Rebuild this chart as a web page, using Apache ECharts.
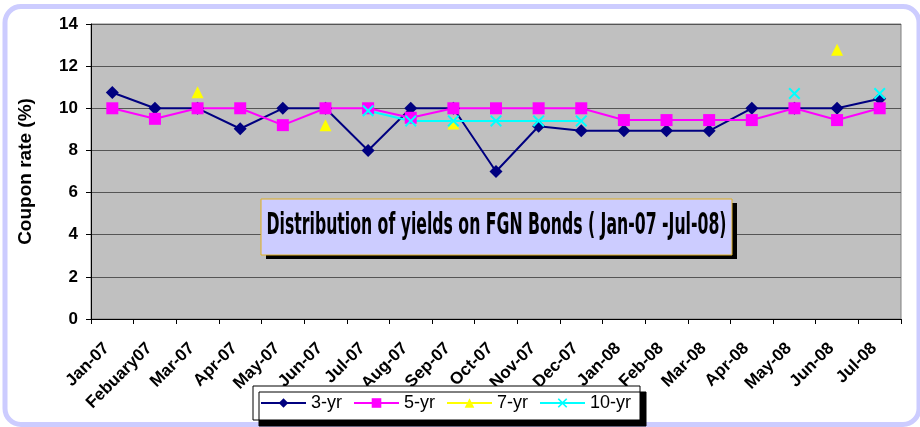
<!DOCTYPE html>
<html>
<head>
<meta charset="utf-8">
<script src="https://cdn.jsdelivr.net/npm/echarts@6.0.0/dist/echarts.min.js"></script>
<style>
html,body{margin:0;padding:0;background:#fff;}
#chart{width:920px;height:427px;}
</style>
</head>
<body>
<div id="chart"></div>
<script>
var categories = ['Jan-07','Febuary07','Mar-07','Apr-07','May-07','Jun-07','Jul-07','Aug-07','Sep-07','Oct-07','Nov-07','Dec-07','Jan-08','Feb-08','Mar-08','Apr-08','May-08','Jun-08','Jul-08'];
var yr3  = [10.75, 10, 10, 9.03, 10, 10, 8, 10, 10, 7, 9.15, 8.93, 8.93, 8.93, 8.93, 10, 10, 10, 10.45];
var yr5  = [10, 9.5, 10, 10, 9.2, 10, 10, 9.55, 10, 10, 10, 10, 9.44, 9.44, 9.44, 9.44, 10, 9.44, 10];
var yr7  = [null, null, 10.76, null, null, 9.2, null, null, 9.28, null, null, null, null, null, null, null, null, 12.78, null];
var yr10 = [null, null, null, null, null, null, 9.88, 9.4, 9.4, 9.4, 9.4, 9.4, null, null, null, null, 10.7, null, 10.7];
var seriesNames = ['3-yr','5-yr','7-yr','10-yr'];
var yTicks = {min: 0, max: 14, interval: 2};
var titleText = 'Distribution of yields on FGN Bonds ( Jan-07 -Jul-08)';

var xPath = 'path://M0,1.2 L1.2,0 L5,3.8 L8.8,0 L10,1.2 L6.2,5 L10,8.8 L8.8,10 L5,6.2 L1.2,10 L0,8.8 L3.8,5 Z';

var titleFont = 'bold 30px "Liberation Sans Narrow", "DejaVu Sans Condensed", "Liberation Sans", sans-serif';
var cv = document.createElement('canvas').getContext('2d');
cv.font = titleFont;
var tw = cv.measureText(titleText).width;
var sx = 460 / tw;

var chart = echarts.init(document.getElementById('chart'), null, {renderer: 'canvas'});

function mkSeries(name, data, color, symbol, size) {
  return {
    name: name, type: 'line', data: data,
    symbol: symbol, symbolSize: size, showAllSymbol: true,
    connectNulls: false,
    lineStyle: {color: color, width: 2},
    itemStyle: {color: color, borderWidth: 0},
    emphasis: {disabled: true},
    animation: false
  };
}

chart.setOption({
  animation: false,
  backgroundColor: '#ffffff',
  grid: {
    left: 91, top: 24, width: 810, height: 295,
    show: true, backgroundColor: '#c0c0c0', borderColor: '#808080', borderWidth: 1,
    containLabel: false, outerBoundsMode: 'none'
  },
  xAxis: {
    type: 'category', data: categories, boundaryGap: true,
    axisLine: {show: true, lineStyle: {color: '#000', width: 1}},
    axisTick: {show: true, interval: 0, length: 5, lineStyle: {color: '#000'}},
    axisLabel: {
      interval: 0, rotate: 45, color: '#000', margin: 21,
      fontFamily: 'Liberation Sans, Arial, sans-serif', fontWeight: 'bold', fontSize: 17,
      padding: [0, 8, 0, 0], hideOverlap: false
    },
    splitLine: {show: false}
  },
  yAxis: {
    type: 'value', min: yTicks.min, max: yTicks.max, interval: yTicks.interval,
    name: 'Coupon rate (%)', nameLocation: 'middle', nameGap: 56,
    nameTextStyle: {color: '#000', fontFamily: 'Liberation Sans, Arial, sans-serif', fontWeight: 'bold', fontSize: 19},
    axisLine: {show: true, lineStyle: {color: '#000', width: 1}},
    axisTick: {show: true, length: 5, lineStyle: {color: '#000'}},
    axisLabel: {color: '#000', margin: 13, fontFamily: 'Liberation Sans, Arial, sans-serif', fontWeight: 'bold', fontSize: 17},
    splitLine: {show: true, lineStyle: {color: '#555555', width: 1}}
  },
  legend: {
    data: seriesNames,
    left: 253, top: 386, z: 10,
    orient: 'horizontal',
    itemWidth: 45, itemHeight: 12, itemGap: 11,
    padding: [8, 9, 8, 7],
    backgroundColor: '#ffffff', borderColor: '#000000', borderWidth: 1,
    shadowColor: '#000000', shadowBlur: 0, shadowOffsetX: 6, shadowOffsetY: 6,
    textStyle: {color: '#000', fontFamily: 'Liberation Sans, Arial, sans-serif', fontSize: 18},
    selectedMode: false
  },
  series: [
    mkSeries(seriesNames[0], yr3, '#000080', 'diamond', 13),
    mkSeries(seriesNames[1], yr5, '#ff00ff', 'rect', 12),
    mkSeries(seriesNames[2], yr7, '#ffff00', 'triangle', 12),
    mkSeries(seriesNames[3], yr10, '#00ffff', xPath, 12)
  ],
  graphic: [
    {
      type: 'rect', z: -5, silent: true,
      shape: {x: 5, y: 6.5, width: 914, height: 418, r: 16},
      style: {fill: 'none', stroke: '#ccccff', lineWidth: 5}
    },
    {
      type: 'group', z: 100, silent: true,
      children: [
        {type: 'rect', shape: {x: 266, y: 203, width: 471, height: 56}, style: {fill: '#000000'}, z: 100},
        {type: 'rect', shape: {x: 261, y: 199, width: 471, height: 56}, style: {fill: '#ccccff', stroke: '#e0b020', lineWidth: 1}, z: 101},
        {type: 'text', x: 496.5, y: 226, scaleX: sx, scaleY: 1, z: 102,
          style: {text: titleText, font: titleFont, fill: '#000', align: 'center', verticalAlign: 'middle'}}
      ]
    }
  ]
});
</script>
</body>
</html>
